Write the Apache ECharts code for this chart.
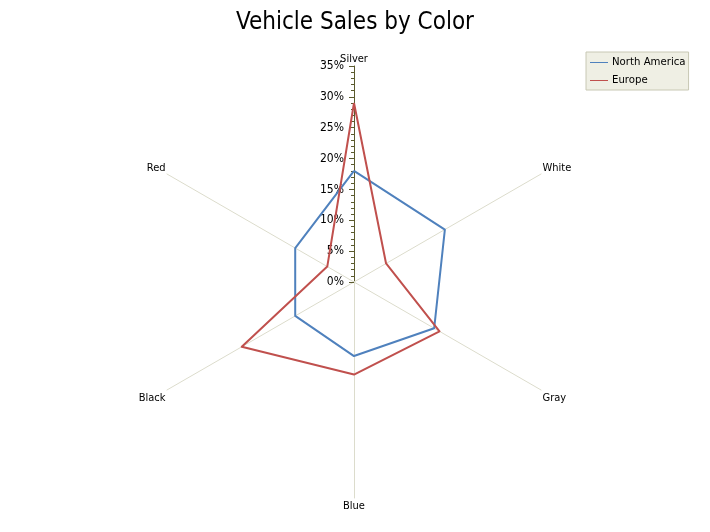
<!DOCTYPE html>
<html>
<head>
<meta charset="utf-8">
<script src="https://cdn.jsdelivr.net/npm/echarts@6/dist/echarts.min.js"></script>
<style>html,body{margin:0;padding:0;background:#fff;}#c{width:710px;height:532px;}</style>
</head>
<body>
<div id="c"></div>
<script>
// categories in counter-clockwise order starting at the top (ECharts draws radar axes counter-clockwise)
var categories = ['Silver', 'Red', 'Black', 'Blue', 'Gray', 'White'];
var northAmerica = [18, 11, 11, 12, 15, 17];
var europe = [29, 5, 21, 15, 16, 6];
var axisMax = 35;
var labelStep = 5;
var tickStep = 1;

var FONT = '"DejaVu Sans Condensed", "DejaVu Sans", sans-serif';
var AXIS_COLOR = '#5b5b2e';
var chart = echarts.init(document.getElementById('c'), null, {renderer: 'canvas'});

// main radar: spokes, names, minor ticks on Silver
var indicatorsMain = categories.map(function (name, i) {
  var ind = {name: name, min: 0, max: axisMax, nameMoveOverlap: false};
  if (i === 0) {
    ind.axisTick = {show: true};
    ind.axisLine = {lineStyle: {color: AXIS_COLOR, width: 1}};
  }
  return ind;
});
// overlay radar: major ticks and labels on Silver
var indicatorsMajor = categories.map(function (name, i) {
  var ind = {name: name, min: 0, max: axisMax, nameMoveOverlap: false};
  if (i === 0) {
    ind.axisTick = {show: true};
    ind.axisLabel = {show: true};
  }
  return ind;
});

var nameStyle = {fontFamily: FONT, fontSize: 11, color: '#000'};
function rs(p) { return Object.assign({padding: p}, nameStyle); }

chart.setOption({
  animation: false,
  title: {
    text: 'Vehicle Sales by Color',
    left: 'center',
    top: 6,
    textStyle: {fontFamily: FONT, fontSize: 24, fontWeight: 'normal', color: '#000'}
  },
  legend: {
    orient: 'vertical',
    left: 586,
    top: 52,
    padding: [5, 3, 4, 4],
    itemGap: 7,
    itemWidth: 18,
    itemHeight: 1,
    icon: 'rect',
    backgroundColor: '#efefe4',
    borderColor: '#c8c8b4',
    borderWidth: 1,
    borderRadius: 0,
    textStyle: {fontFamily: FONT, fontSize: 11.3, color: '#000', padding: [0, 0, 0, -1]},
    data: ['North America', 'Europe']
  },
  radar: [{
    center: [354, 282],
    radius: 216,
    startAngle: 90,
    splitNumber: axisMax / tickStep,
    shape: 'polygon',
    nameGap: -3,
    nameMoveOverlap: false,
    axisName: {
      fontFamily: FONT, fontSize: 11, color: '#000',
      formatter: function (name) {
        var k = categories.indexOf(name);
        var tag = ['t', 'ul', 'll', 'b', 'lr', 'ur'][k];
        return '{' + tag + '|' + name + '}';
      },
      rich: {
        t: rs([0, 0, 4, 0]),
        ur: rs([0, 0, 15, 4]),
        ul: rs([0, 4, 15, 0]),
        lr: rs([19, 0, 0, 4]),
        ll: rs([19, 4, 0, 0]),
        b: rs([6, 0, 0, 0])
      }
    },
    splitLine: {show: false},
    splitArea: {show: false},
    axisLine: {show: true, lineStyle: {color: '#dcdccc', width: 1}},
    axisTick: {show: false, length: 3, lineStyle: {color: AXIS_COLOR}},
    axisLabel: {show: false},
    indicator: indicatorsMain
  }, {
    center: [354, 282],
    radius: 216,
    startAngle: 90,
    splitNumber: axisMax / labelStep,
    shape: 'polygon',
    silent: true,
    axisName: {show: false},
    nameMoveOverlap: false,
    splitLine: {show: false},
    splitArea: {show: false},
    axisLine: {show: false},
    axisTick: {show: false, length: 5, lineStyle: {color: AXIS_COLOR}},
    axisLabel: {
      show: false,
      fontFamily: FONT,
      fontSize: 12,
      color: '#000',
      margin: 10,
      hideOverlap: false,
      formatter: function (v) { return v + '%'; }
    },
    indicator: indicatorsMajor
  }],
  series: [{
    type: 'radar',
    radarIndex: 0,
    symbol: 'none',
    data: [
      {name: 'North America', value: northAmerica,
       lineStyle: {color: '#4f81bd', width: 2}, itemStyle: {color: '#4f81bd'}},
      {name: 'Europe', value: europe,
       lineStyle: {color: '#c0504d', width: 2}, itemStyle: {color: '#c0504d'}}
    ]
  }]
});
</script>
</body>
</html>
